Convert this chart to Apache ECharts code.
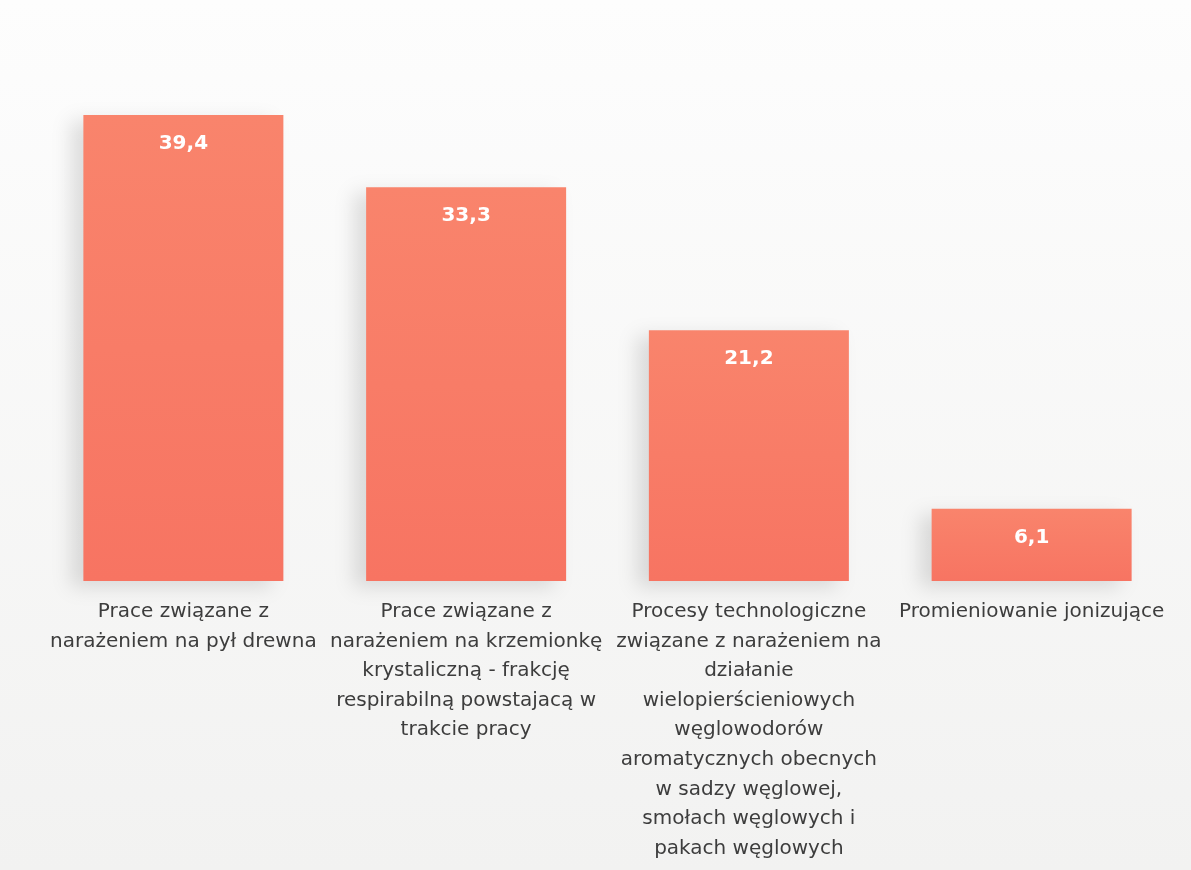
<!DOCTYPE html>
<html><head><meta charset="utf-8">
<script src="https://cdn.jsdelivr.net/npm/echarts@6/dist/echarts.min.js"></script>
<style>html,body{margin:0;padding:0;background:#f6f6f5;}#c{width:1191px;height:870px;}</style>
</head><body><div id="c"></div>
<script>
const categories = [
  "Prace związane z\nnarażeniem na pył drewna",
  "Prace związane z\nnarażeniem na krzemionkę\nkrystaliczną - frakcję\nrespirabilną powstajacą w\ntrakcie pracy",
  "Procesy technologiczne\nzwiązane z narażeniem na\ndziałanie\nwielopierścieniowych\nwęglowodorów\naromatycznych obecnych\nw sadzy węglowej,\nsmołach węglowych i\npakach węglowych",
  "Promieniowanie jonizujące"
];
const values = [39.4, 33.3, 21.2, 6.1];

const chart = echarts.init(document.getElementById('c'));
chart.setOption({
  backgroundColor: {type:'linear', x:0, y:0, x2:0, y2:1, colorStops:[{offset:0,color:'#fdfdfd'},{offset:1,color:'#f2f2f1'}]},
  animation: false,
  grid: {left: 42, right: 18, top: 115, bottom: 289},
  xAxis: {
    type: 'category', data: categories,
    axisLine: {show: false}, axisTick: {show: false},
    axisLabel: {interval: 0, color: '#3d3d3d', fontFamily: 'DejaVu Sans', fontSize: 20, lineHeight: 29.6, margin: 16}
  },
  yAxis: {type: 'value', min: 0, max: 39.4, show: false, splitLine: {show: false}},
  series: [{
    type: 'bar', data: values, barWidth: 200,
    itemStyle: {
      color: {type:'linear', x:0, y:0, x2:0, y2:1, colorStops:[{offset:0,color:'#f9846c'},{offset:1,color:'#f77462'}]},
      shadowColor: 'rgba(0,0,0,0.12)', shadowBlur: 18, shadowOffsetX: -12, shadowOffsetY: 6
    },
    label: {
      show: true, position: 'insideTop', distance: 19,
      color: '#ffffff', fontWeight: 'bold', fontSize: 20, fontFamily: 'DejaVu Sans',
      formatter: p => String(p.value).replace('.', ',')
    }
  }]
});
</script>
</body></html>
